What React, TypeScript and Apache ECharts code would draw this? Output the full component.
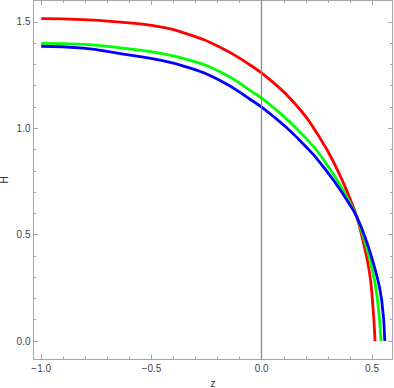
import React, { useEffect, useRef } from "react";
import * as echarts from "echarts";

// Axis ranges and ticks
const X_MIN = -1.035;
const X_MAX = 0.593;
const Y_MIN = -0.0845;
const Y_MAX = 1.6;
const X_MAJOR = [-1.0, -0.5, 0.0, 0.5];
const X_MINOR = [-0.9, -0.8, -0.7, -0.6, -0.4, -0.3, -0.2, -0.1, 0.1, 0.2, 0.3, 0.4];
const Y_MAJOR = [0.0, 0.5, 1.0, 1.5];
const Y_MINOR = [0.1, 0.2, 0.3, 0.4, 0.6, 0.7, 0.8, 0.9, 1.1, 1.2, 1.3, 1.4];

// Curves: z values and H values
const RED_Z = [-1.0, -0.81, -0.641, -0.491, -0.339, -0.189, -0.053, 0.038, 0.151, 0.262, 0.344, 0.409, 0.431, 0.455, 0.487, 0.502, 0.514];
const RED_H = [1.515, 1.51, 1.498, 1.482, 1.443, 1.38, 1.297, 1.227, 1.115, 0.958, 0.802, 0.646, 0.583, 0.489, 0.333, 0.192, 0.0];

const GREEN_Z = [-1.0, -0.81, -0.641, -0.491, -0.339, -0.189, -0.053, 0.038, 0.196, 0.313, 0.402, 0.431, 0.461, 0.502, 0.525, 0.541];
const GREEN_H = [1.399, 1.394, 1.377, 1.357, 1.323, 1.265, 1.178, 1.11, 0.958, 0.802, 0.646, 0.583, 0.489, 0.333, 0.192, 0.0];

const BLUE_Z = [-1.0, -0.81, -0.641, -0.491, -0.339, -0.189, -0.053, 0.038, 0.158, 0.292, 0.396, 0.431, 0.468, 0.515, 0.544, 0.558];
const BLUE_H = [1.385, 1.376, 1.35, 1.326, 1.287, 1.224, 1.136, 1.068, 0.958, 0.802, 0.646, 0.583, 0.489, 0.333, 0.192, 0.0];

const FRAME = "#a6a6a6";
const LABEL = "#444444";
const FONT = "Liberation Sans";

const pairs = (xs: number[], ys: number[]) => xs.map((x, i) => [x, ys[i]]);
const fmt = (v: number) => (Math.round(v * 10) / 10).toFixed(1).replace("-", "\u2212");

export default function App() {
  const ref = useRef<HTMLDivElement>(null);
  useEffect(() => {
    if (!ref.current) return;
    const chart = echarts.init(ref.current, undefined, { renderer: "svg" });
    const baseX = (position: string, ticks: number[], len: number, showLine: boolean, showLabel: boolean) => ({
      type: "value",
      min: X_MIN,
      max: X_MAX,
      position,
      axisLine: { show: showLine, onZero: false, lineStyle: { color: FRAME, width: 1 } },
      axisTick: { show: true, inside: true, length: len, customValues: ticks, lineStyle: { color: FRAME, width: 1 } },
      axisLabel: showLabel
        ? { show: true, customValues: ticks, formatter: fmt, margin: 4, fontSize: 10, color: LABEL, fontFamily: FONT }
        : { show: false },
      splitLine: { show: false },
    });
    const baseY = (position: string, ticks: number[], len: number, showLine: boolean, showLabel: boolean) => ({
      type: "value",
      min: Y_MIN,
      max: Y_MAX,
      position,
      axisLine: { show: showLine, onZero: false, lineStyle: { color: FRAME, width: 1 } },
      axisTick: { show: true, inside: true, length: len, customValues: ticks, lineStyle: { color: FRAME, width: 1 } },
      axisLabel: showLabel
        ? { show: true, customValues: ticks, formatter: fmt, margin: 3, fontSize: 10, color: LABEL, fontFamily: FONT }
        : { show: false },
      splitLine: { show: false },
    });
    const line = (name: string, color: string, data: number[][]) => ({
      name,
      type: "line",
      data,
      showSymbol: false,
      symbol: "none",
      smooth: 0.5,
      lineStyle: { color, width: 2.8 },
      itemStyle: { color },
      z: 3,
    });
    chart.setOption({
      animation: false,
      backgroundColor: "#ffffff",
      grid: { left: 33.5, right: 1.5, top: 0.5, bottom: 29, outerBoundsMode: "none", containLabel: false },
      xAxis: [
        baseX("bottom", X_MAJOR, 4.5, true, true),
        baseX("bottom", X_MINOR, 2.5, false, false),
        baseX("top", X_MAJOR, 4.5, true, false),
        baseX("top", X_MINOR, 2.5, false, false),
      ],
      yAxis: [
        baseY("left", Y_MAJOR, 4.5, true, true),
        baseY("left", Y_MINOR, 2.5, false, false),
        baseY("right", Y_MAJOR, 4.5, true, false),
        baseY("right", Y_MINOR, 2.5, false, false),
      ],
      series: [
        {
          type: "line",
          data: [],
          silent: true,
          markLine: {
            silent: true,
            symbol: "none",
            label: { show: false },
            lineStyle: { color: "#8a8a8a", width: 1.3, type: "solid" },
            data: [{ xAxis: 0 }],
          },
        },
        line("red", "#ff0000", pairs(RED_Z, RED_H)),
        line("green", "#00ff00", pairs(GREEN_Z, GREEN_H)),
        line("blue", "#0000ff", pairs(BLUE_Z, BLUE_H)),
      ],
      graphic: [
        {
          type: "text",
          x: 213,
          y: 383.5,
          style: { text: "z", fontSize: 10, fill: "#333333", fontFamily: FONT, align: "center", verticalAlign: "middle" },
        },
        {
          type: "text",
          x: 4,
          y: 180,
          rotation: Math.PI / 2,
          style: { text: "H", fontSize: 10, fill: "#333333", fontFamily: FONT, align: "center", verticalAlign: "middle" },
        },
      ],
    });
    return () => chart.dispose();
  }, []);
  return (
    <div
      ref={ref}
      style={{ position: "fixed", left: 0, top: 0, width: 394, height: 388, background: "#fff" }}
    />
  );
}
